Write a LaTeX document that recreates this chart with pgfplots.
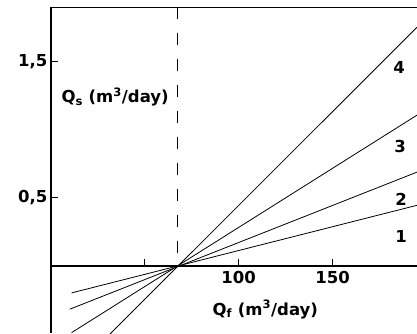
\documentclass[border=0pt]{standalone}
\usepackage{fontspec}
\setmainfont{DejaVu Sans}
\usepackage{pgfplots}
\pgfplotsset{compat=1.18}
\newcommand{\lf}{\fontsize{16.5}{19}\selectfont\bfseries}
\begin{document}
\begin{tikzpicture}
\begin{axis}[name=ax, scale only axis, width=366pt, height=326pt,
  xmin=0, xmax=195, ymin=-0.493, ymax=1.904,
  axis x line=middle, axis y line=left,
  x axis line style={-, line width=1.2pt},
  y axis line style={-, line width=1.6pt},
  xtick={50,100,150}, xticklabels={,100,150},
  ytick={0.5,1.5}, yticklabels={{0,5},{1,5}},
  tick align=inside, major tick length=7pt,
  tick style={black, line width=1pt},
  ticklabel style={font=\lf},
  xticklabel style={yshift=-2pt},
  clip=true]
\addplot[black, line width=0.8pt] coordinates {(11,-0.198) (195,0.446)};
\addplot[black, line width=0.8pt] coordinates {(10,-0.318) (195,0.69)};
\addplot[black, line width=0.8pt] coordinates {(11,-0.49) (195,1.109)};
\addplot[black, line width=0.8pt] coordinates {(30,-0.52) (195,1.755)};
\addplot[black, line width=1pt, dash pattern=on 12pt off 14pt] coordinates {(67.5,1.904) (67.5,0)};
\draw[line width=1.6pt] (rel axis cs:0,1) -- (rel axis cs:1,1);
\node[font=\lf] at (axis cs:185.5,1.456) {4};
\node[font=\lf] at (axis cs:186,0.88) {3};
\node[font=\lf] at (axis cs:186.6,0.49) {2};
\node[font=\lf] at (axis cs:186.6,0.22) {1};
\node[font=\lf, anchor=west, inner sep=0pt] at (axis cs:5.5,1.24) {Q\textsubscript{s} (m\textsuperscript{3}/day)};
\node[font=\lf, anchor=west, inner sep=0pt] at (axis cs:86,-0.32) {Q\textsubscript{f} (m\textsuperscript{3}/day)};
\end{axis}
\pgfresetboundingbox
\path (ax.south west) ++(-51pt,0pt) rectangle (ax.north east);
\path (ax.north east) ++(0pt,7pt);
\end{tikzpicture}
\end{document}
